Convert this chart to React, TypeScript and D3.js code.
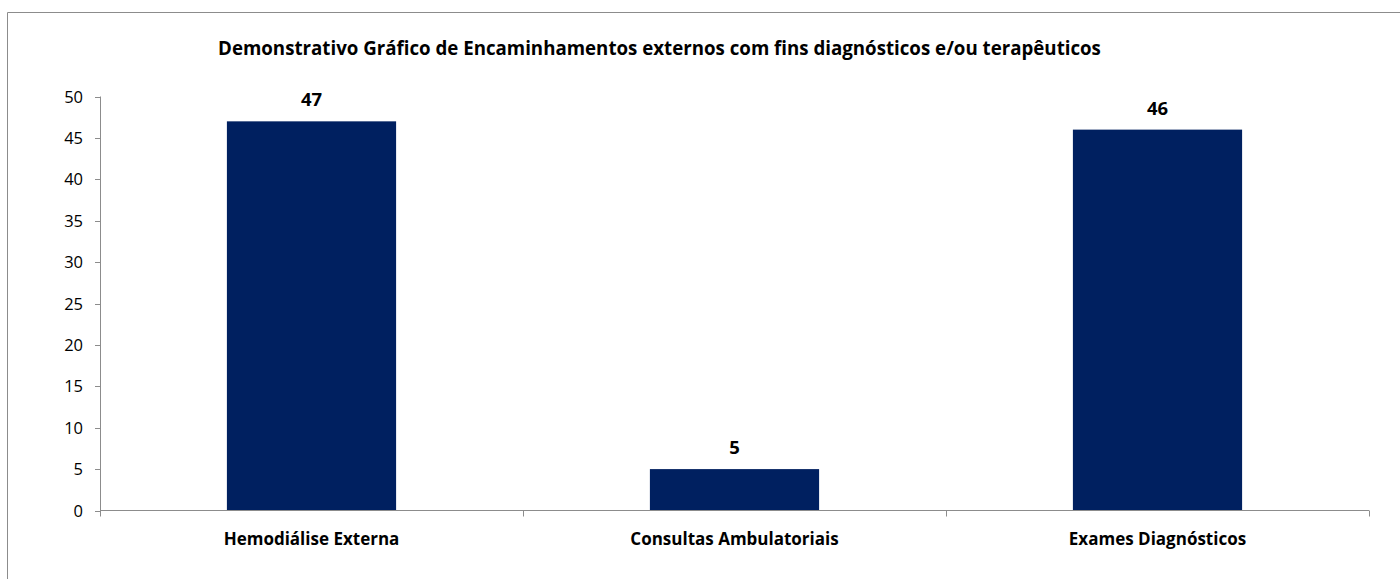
import React from "react";
import * as d3 from "d3";

const categories = ["Hemodiálise Externa", "Consultas Ambulatoriais", "Exames Diagnósticos"];
const values = [47, 5, 46];
const yTicks = [0, 5, 10, 15, 20, 25, 30, 35, 40, 45, 50];
const title = "Demonstrativo Gráfico de Encaminhamentos externos com fins diagnósticos e/ou terapêuticos";

const W = 1400;
const H = 579;
const FONT = "'Open Sans', sans-serif";

export default function App() {
  const left = 100;
  const right = 1369;
  const top = 96.5;
  const bottom = 510.5;
  const x = d3.scaleBand<string>().domain(categories).range([left, right]).paddingInner(0).paddingOuter(0);
  const y = d3.scaleLinear().domain([0, 50]).range([bottom, top]);
  const bw = x.bandwidth() * 0.4;
  const edges = [left, ...categories.map((c) => (x(c) as number) + x.bandwidth())];

  return (
    <svg width={W} height={H} style={{ position: "absolute", left: 0, top: 0 }} fontFamily={FONT}>
      <rect x={0} y={0} width={W} height={H} fill="#fff" />
      <line x1={7.5} y1={12.5} x2={W} y2={12.5} stroke="#8c8c8c" strokeWidth={1} />
      <line x1={7.5} y1={12.5} x2={7.5} y2={H} stroke="#8c8c8c" strokeWidth={1} />
      <text x={659.5} y={55} textAnchor="middle" fontSize={18.7} fontWeight="bold" fill="#000">
        {title}
      </text>
      {categories.map((c, i) => {
        const cx = (x(c) as number) + x.bandwidth() / 2;
        return (
          <g key={c}>
            <rect x={cx - bw / 2} y={y(values[i])} width={bw} height={bottom - y(values[i])} fill="#002060" />
            <text x={cx} y={y(values[i]) - 15} textAnchor="middle" fontSize={18.5} fontWeight="bold" fill="#000">
              {values[i]}
            </text>
            <text x={cx} y={545} textAnchor="middle" fontSize={17} fontWeight="bold" fill="#000">
              {c}
            </text>
          </g>
        );
      })}
      <line x1={left + 0.5} y1={top} x2={left + 0.5} y2={bottom} stroke="#8c8c8c" />
      <line x1={left} y1={bottom} x2={right} y2={bottom} stroke="#8c8c8c" />
      {yTicks.map((t) => (
        <g key={t}>
          <line x1={95} y1={Math.round(y(t)) + 0.5} x2={left} y2={Math.round(y(t)) + 0.5} stroke="#8c8c8c" />
          <text x={83} y={y(t) + 6} textAnchor="end" fontSize={16.5} fill="#000">
            {t}
          </text>
        </g>
      ))}
      {edges.map((e, i) => (
        <line key={i} x1={Math.round(e) + 0.5} y1={bottom} x2={Math.round(e) + 0.5} y2={bottom + 6} stroke="#8c8c8c" />
      ))}
    </svg>
  );
}
